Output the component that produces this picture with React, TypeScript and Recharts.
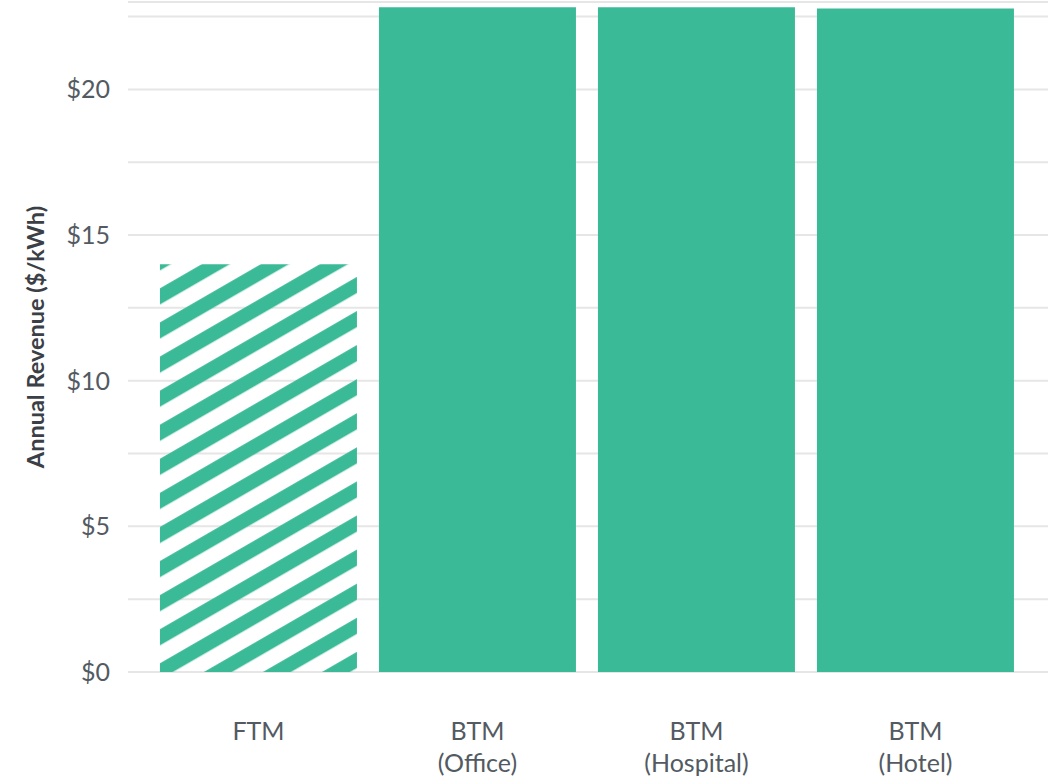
import { Bar, BarChart, CartesianGrid, Cell, XAxis, YAxis } from "recharts";

const categories = ["FTM", "BTM\n(Office)", "BTM\n(Hospital)", "BTM\n(Hotel)"];
const revenue = [14.0, 22.82, 22.82, 22.78];
const hatched = [true, false, false, false];
const yTicks = [0, 2.5, 5, 7.5, 10, 12.5, 15, 17.5, 20, 22.5];

const GREEN = "#3bba97";
const TEXT = "#535a62";
const FONT = "Lato, 'Open Sans', sans-serif";

const chartData = categories.map((name, i) => ({ name, value: revenue[i] }));

function CategoryTick({ x, y, payload }: any) {
  const lines = String(payload.value).split("\n");
  return (
    <text x={x} y={y} textAnchor="middle" fill={TEXT} fontSize={25} fontFamily={FONT}>
      {lines.map((line, i) => (
        <tspan key={i} x={x} dy={i === 0 ? 0 : 32}>
          {line}
        </tspan>
      ))}
    </text>
  );
}

function AxisTitle({ viewBox }: any) {
  const cx = viewBox.x + 35;
  const cy = viewBox.y + viewBox.height / 2;
  return (
    <text
      x={cx}
      y={cy}
      transform={`rotate(-90 ${cx} ${cy})`}
      textAnchor="middle"
      dominantBaseline="central"
      fill="#3b4046"
      fontSize={23.5}
      fontWeight={700}
      fontFamily={FONT}
    >
      Annual Revenue ($/kWh)
    </text>
  );
}

export default function App() {
  return (
    <div style={{ position: "absolute", left: 0, top: 0, background: "#fff" }}>
      <BarChart
        width={1053}
        height={776}
        data={chartData}
        margin={{ top: 2, right: 5, bottom: 0, left: 0 }}
        barCategoryGap="5%"
      >
        <defs>
          {/* diagonal hatch for the front-of-meter bar */}
          <pattern
            id="hatch"
            patternUnits="userSpaceOnUse"
            width={20}
            height={29.52}
            patternTransform="rotate(-30)"
          >
            <rect x={0} y={5} width={20} height={14} fill={GREEN} />
          </pattern>
        </defs>
        <CartesianGrid vertical={false} stroke="#e6e6e6" strokeWidth={2} />
        <XAxis
          dataKey="name"
          height={104}
          axisLine={false}
          tickLine={false}
          padding={{ left: 21, right: 23 }}
          tick={<CategoryTick />}
          tickSize={0}
          tickMargin={68}
          interval={0}
        />
        <YAxis
          width={128}
          domain={[0, 23]}
          ticks={yTicks}
          axisLine={false}
          tickLine={false}
          tickSize={0}
          tickMargin={18}
          tickFormatter={(v: number) => (v % 5 === 0 ? `$${v}` : "")}
          tick={{ fill: TEXT, fontSize: 25, fontFamily: FONT }}
          label={{ content: AxisTitle }}
        />
        <Bar dataKey="value" isAnimationActive={false}>
          {chartData.map((d, i) => (
            <Cell key={d.name} fill={hatched[i] ? "url(#hatch)" : GREEN} />
          ))}
        </Bar>
      </BarChart>
    </div>
  );
}
